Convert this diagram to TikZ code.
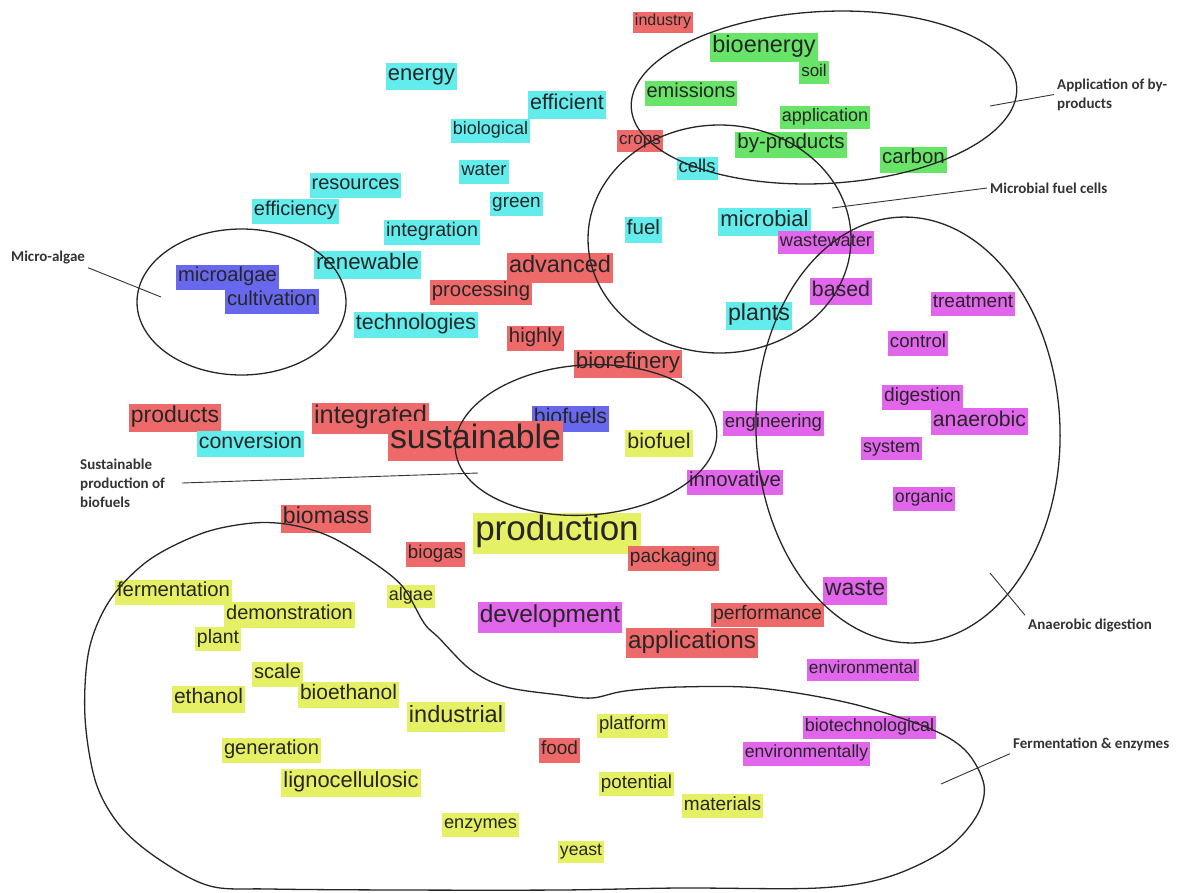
\documentclass[tikz,border=0pt]{standalone}
\usepackage{fontspec}
\setmainfont{Liberation Sans}
\newfontfamily\labelfont{Carlito}

\definecolor{hlcyan}{RGB}{98,236,236}
\definecolor{hlred}{RGB}{238,106,106}
\definecolor{hlgreen}{RGB}{104,228,104}
\definecolor{hlblue}{RGB}{104,104,238}
\definecolor{hlmagenta}{RGB}{226,102,236}
\definecolor{hlyellow}{RGB}{230,240,100}

\tikzset{>=latex}
\tikzset{word/.style={inner xsep=2pt, inner ysep=2.5pt, text=black!85,
	font=\fontsize{#1}{#1}\selectfont, execute at begin node=\strut}}

\begin{document}
\begin{tikzpicture}[x=1pt, y=-1pt]

	\tikzstyle{word_cyan} = [fill=hlcyan]
	\tikzstyle{word_red} = [fill=hlred]
	\tikzstyle{word_green} = [fill=hlgreen]
	\tikzstyle{word_blue} = [fill=hlblue]
	\tikzstyle{word_magenta} = [fill=hlmagenta]
	\tikzstyle{word_yellow} = [fill=hlyellow]
	\tikzstyle{outline} = [draw=black!85, line width=1.3pt]
	\tikzstyle{topic_label} = [font=\labelfont\bfseries\fontsize{15}{19}\selectfont, text=black!80, align=left, inner sep=3pt]
	\tikzstyle{pointer} = [draw=black!80, line width=0.9pt]

	\useasboundingbox (0,0) rectangle (1183,892);

%------------------------------------------------------------
	\node[word_red, word=16] (industry) at (663,22.5) {industry};
	\node[word_green, word=23.5] (bioenergy) at (764,47.5) {bioenergy};
	\node[word_green, word=17] (soil) at (814,72.5) {soil};
	\node[word_green, word=20] (emissions) at (691,93.5) {emissions};
	\node[word_green, word=18] (application) at (825,117.5) {application};
	\node[word_green, word=20.5] (byproducts) at (791,144.5) {by-products};
	\node[word_green, word=20.5] (carbon) at (913.5,159.5) {carbon};

%------------------------------------------------------------

	\node[word_cyan, word=22] (energy) at (421.5,76) {energy};
	\node[word_cyan, word=21.5] (efficient) at (567,105) {efficient};
	\node[word_cyan, word=18] (biological) at (490.5,131) {biological};
	\node[word_red, word=17] (crops) at (640,141) {crops};
	\node[word_cyan, word=18.5] (cells) at (697,168.5) {cells};
	\node[word_cyan, word=18.5] (water) at (484,172) {water};
	\node[word_cyan, word=20] (resources) at (355.5,185.5) {resources};
	\node[word_cyan, word=19] (green) at (516.5,203.5) {green};
	\node[word_cyan, word=20] (efficiency) at (295.5,211.5) {efficiency};
	\node[word_cyan, word=19.7] (integration) at (432,232.5) {integration};
	\node[word_cyan, word=20.5] (fuel) at (643.5,230) {fuel};
	\node[word_cyan, word=22] (microbial) at (764.5,222) {microbial};
	\node[word_magenta, word=18.2] (wastewater) at (826,242.5) {wastewater};

%------------------------------------------------------------

	\node[word_cyan, word=22.3] (renewable) at (367.5,265) {renewable};
	\node[word_red, word=23.5] (advanced) at (560,268) {advanced};
	\node[word_blue, word=20.2] (microalgae) at (227.5,277.5) {microalgae};
	\node[word_blue, word=20.2] (cultivation) at (272,301.5) {cultivation};
	\node[word_red, word=20.3] (processing) at (481,292.5) {processing};
	\node[word_magenta, word=21.3] (based) at (841,291.5) {based};
	\node[word_magenta, word=19] (treatment) at (973,303.5) {treatment};
	\node[word_cyan, word=21.4] (technologies) at (416,325) {technologies};
	\node[word_cyan, word=23.2] (plants) at (759,316) {plants};
	\node[word_red, word=20.3] (highly) at (535.5,338.5) {highly};
	\node[word_magenta, word=18.7] (control) at (918,343.5) {control};
	\node[word_red, word=22.3] (biorefinery) at (628,364) {biorefinery};
	\node[word_magenta, word=19.2] (digestion) at (922.5,397.5) {digestion};
	\node[word_magenta, word=21.2] (anaerobic) at (979.5,421.5) {anaerobic};

%------------------------------------------------------------

	\node[word_red, word=23] (products) at (175,418) {products};
	\node[word_red, word=25.4] (integrated) at (370.5,418.5) {integrated};
	\node[word_blue, word=21.2] (biofuels) at (570.5,419) {biofuels};
	\node[word_red, word=33.8] (sustainable) at (475.5,441) {sustainable};
	\node[word_magenta, word=18.6] (engineering) at (773.5,423.5) {engineering};
	\node[word_magenta, word=18] (system) at (891.5,448.5) {system};
	\node[word_cyan, word=21.3] (conversion) at (250.5,444) {conversion};
	\node[word_yellow, word=21.4] (biofuel) at (659,443.5) {biofuel};
	\node[word_magenta, word=20.4] (innovative) at (735,482.5) {innovative};
	\node[word_magenta, word=17.7] (organic) at (924,499) {organic};

%------------------------------------------------------------

	\node[word_red, word=23.1] (biomass) at (326,519) {biomass};
	\node[word_yellow, word=35] (production) at (557,533.5) {production};
	\node[word_red, word=18.7] (biogas) at (435.5,554.5) {biogas};
	\node[word_red, word=19.1] (packaging) at (673.5,558.5) {packaging};
	\node[word_yellow, word=20.3] (fermentation) at (173.5,592.5) {fermentation};
	\node[word_yellow, word=18] (algae) at (411,596.5) {algae};
	\node[word_magenta, word=23] (waste) at (855,591) {waste};
	\node[word_yellow, word=20] (demonstration) at (289.5,615) {demonstration};
	\node[word_magenta, word=24.5] (development) at (550,617.5) {development};
	\node[word_red, word=19.4] (performance) at (767.5,615) {performance};
	\node[word_yellow, word=19.4] (plant) at (218,639) {plant};
	\node[word_red, word=24.2] (applications) at (692,643) {applications};

%------------------------------------------------------------

	\node[word_yellow, word=20.1] (scale) at (277.5,674.5) {scale};
	\node[word_yellow, word=21] (ethanol) at (208.5,699.5) {ethanol};
	\node[word_yellow, word=21] (bioethanol) at (348.5,695) {bioethanol};
	\node[word_magenta, word=17.2] (environmental) at (863,670) {environmental};
	\node[word_yellow, word=23.5] (industrial) at (456,717) {industrial};
	\node[word_yellow, word=18.5] (platform) at (632.5,726) {platform};
	\node[word_magenta, word=18] (biotechnological) at (869.5,727.5) {biotechnological};
	\node[word_red, word=19] (food) at (559.5,750.5) {food};
	\node[word_yellow, word=20.1] (generation) at (271.5,750.5) {generation};
	\node[word_magenta, word=17.6] (environmentally) at (806.5,754) {environmentally};
	\node[word_yellow, word=21.9] (lignocellulosic) at (351,783) {lignocellulosic};
	\node[word_yellow, word=18.8] (potential) at (636.5,784) {potential};
	\node[word_yellow, word=19] (materials) at (722.5,806) {materials};
	\node[word_yellow, word=18.2] (enzymes) at (480.5,825) {enzymes};
	\node[word_yellow, word=17.6] (yeast) at (581,852) {yeast};

%------------------------------------------------------------

	\draw[outline, rotate around={3:(824,97.5)}] (824,97.5) ellipse [x radius=193, y radius=86];
	\draw[outline] (719.5,239) ellipse [x radius=131.5, y radius=114];
	\draw[outline, rotate around={2:(908,430)}] (908,430) ellipse [x radius=152, y radius=213];
	\draw[outline, rotate around={4:(586,440)}] (586,440) ellipse [x radius=131, y radius=75];
	\draw[outline] (241.5,302) ellipse [x radius=104.5, y radius=73];
	\draw[outline] plot[smooth cycle, tension=0.55] coordinates {
		(292,525) (331,537) (374,563) (403,587) (424,623) (439,638) (471,670)
		(506,687) (560,695) (592,698) (625,691) (679,687) (759,688) (849,703)
		(926,727) (965,750) (984,785) (976,817) (945,850) (888,877) (818,888)
		(679,888) (560,890) (400,890) (270,889) (210,886) (160,860) (121,827)
		(96,783) (85,717) (89,650) (110,600) (149,560) (203,533) (253,523)};

%------------------------------------------------------------

	\node[topic_label, anchor=west] (lbl_app) at (1054,94.5) {Application of by-\\products};
	\node[topic_label, anchor=west] (lbl_mfc) at (987,188) {Microbial fuel cells};
	\node[topic_label, anchor=west] (lbl_algae) at (8,258) {Micro-algae};
	\node[topic_label, anchor=west] (lbl_sust) at (77,483) {Sustainable\\production of\\biofuels};
	\node[topic_label, anchor=west] (lbl_anaer) at (1025,625) {Anaerobic digestion};
	\node[topic_label, anchor=west] (lbl_ferm) at (1010,744) {Fermentation \& enzymes};

	\coordinate (pt_app) at (990,106);
	\coordinate (pt_mfc) at (832,208);
	\coordinate (pt_algae) at (161,297);
	\coordinate (pt_sust) at (478,473);
	\coordinate (pt_anaer) at (990,573);
	\coordinate (pt_ferm) at (941,784);

	\draw[pointer] (lbl_app.west) -- (pt_app);
	\draw[pointer] (lbl_mfc.west) -- (pt_mfc);
	\draw[pointer] (lbl_algae.south east) -- (pt_algae);
	\draw[pointer] ([xshift=14pt]lbl_sust.east) -- (pt_sust);
	\draw[pointer] (lbl_anaer.north west) -- (pt_anaer);
	\draw[pointer] (lbl_ferm.south west) -- (pt_ferm);

\end{tikzpicture}
\end{document}
